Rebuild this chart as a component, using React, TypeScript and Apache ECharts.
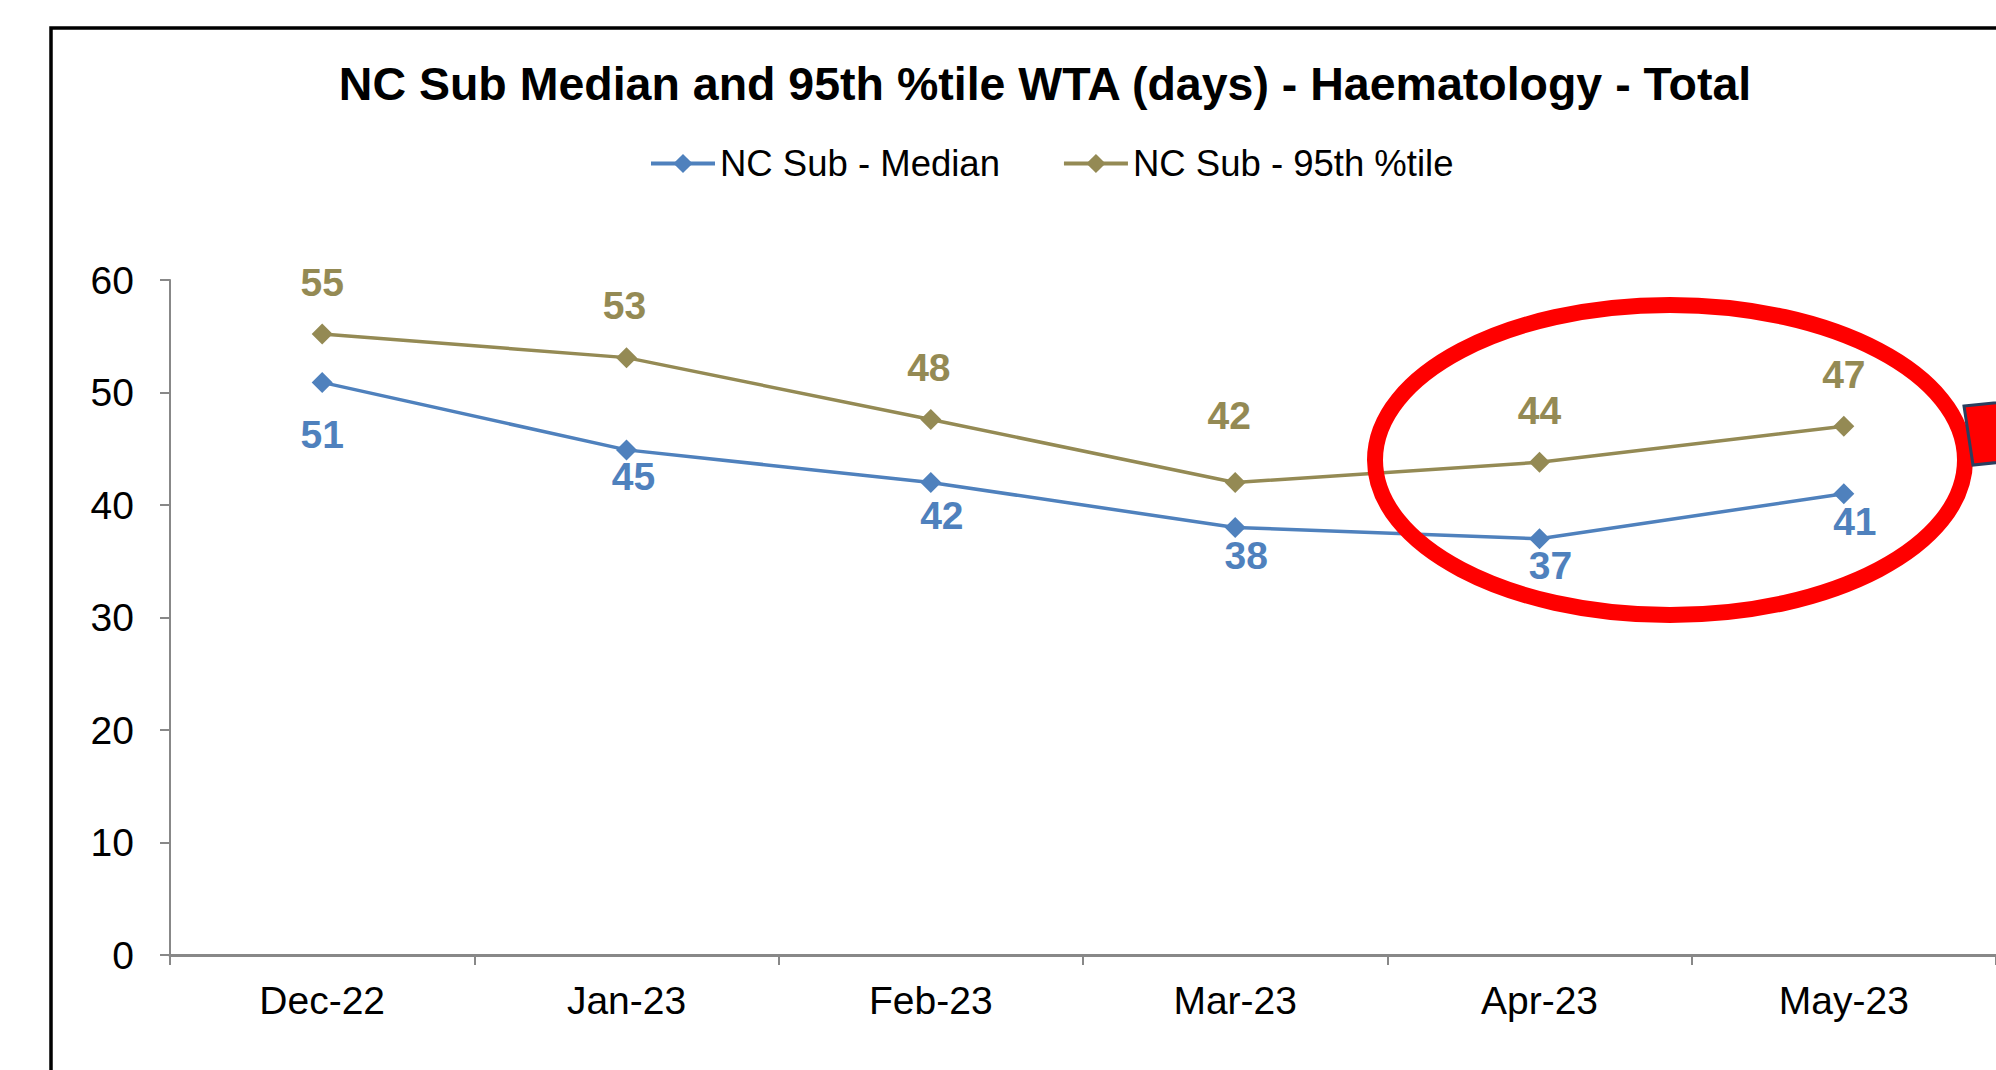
import React, { useEffect, useRef } from "react";
import * as echarts from "echarts";

const categories = ["Dec-22", "Jan-23", "Feb-23", "Mar-23", "Apr-23", "May-23"];
const medianValues = [50.9, 44.9, 42.0, 38.0, 37.0, 41.0];
const p95Values = [55.2, 53.1, 47.6, 42.0, 43.8, 47.0];
const seriesNames = ["NC Sub - Median", "NC Sub - 95th %tile"];
const titleText = "NC Sub Median and 95th %tile WTA (days) - Haematology - Total";

const FONT = "'Liberation Sans', Arial, Helvetica, sans-serif";
const BLUE = "#4F81BD";
const GOLD = "#948A54";
const AXIS = "#888888";

// label placement tweaks (style only, per point index)
const medianLabelStyle = [
  { distance: 22, offset: [0, 0] },
  { distance: -3, offset: [7, 0] },
  { distance: 3, offset: [11, 0] },
  { distance: -2, offset: [11, 0] },
  { distance: -3, offset: [11, 0] },
  { distance: -2, offset: [11, 0] },
];
const p95LabelStyle = [
  { distance: 22, offset: [0, 0] },
  { distance: 22, offset: [-2, 0] },
  { distance: 22, offset: [-2, 0] },
  { distance: 37, offset: [-6, 0] },
  { distance: 22, offset: [0, 0] },
  { distance: 22, offset: [0, 0] },
];

export default function App() {
  const ref = useRef<HTMLDivElement>(null);
  useEffect(() => {
    if (!ref.current) return;
    const chart = echarts.init(ref.current, undefined, { renderer: "svg" });
    const labelBase = {
      show: true,
      fontFamily: FONT,
      fontSize: 39,
      fontWeight: "bold",
      formatter: (p: any) => String(Math.round(p.value)),
    };
    chart.setOption({
      animation: false,
      backgroundColor: "#ffffff",
      textStyle: { fontFamily: FONT },
      title: {
        text: titleText,
        left: 1040,
        top: 55,
        textAlign: "center",
        textStyle: { fontFamily: FONT, fontSize: 46.5, fontWeight: "bold", color: "#000000" },
      },
      legend: {
        left: 649,
        top: 145,
        padding: 0,
        itemWidth: 64,
        itemHeight: 24,
        itemGap: 62,
        lineStyle: { width: 4 },
        textStyle: { fontFamily: FONT, fontSize: 36.5, color: "#000000" },
        data: seriesNames,
      },
      grid: { left: 170, top: 280, width: 1832, height: 675, containLabel: false },
      xAxis: {
        type: "category",
        data: categories,
        boundaryGap: true,
        axisLine: { show: true, lineStyle: { color: AXIS, width: 3 } },
        axisTick: { show: true, length: 10, lineStyle: { color: AXIS, width: 2 } },
        axisLabel: { fontFamily: FONT, fontSize: 39, color: "#000000", margin: 26 },
        splitLine: { show: false },
      },
      yAxis: {
        type: "value",
        min: 0,
        max: 60,
        interval: 10,
        axisLine: { show: true, lineStyle: { color: AXIS, width: 2 } },
        axisTick: { show: true, length: 10, lineStyle: { color: AXIS, width: 2 } },
        axisLabel: { fontFamily: FONT, fontSize: 39, color: "#000000", margin: 36 },
        splitLine: { show: false },
      },
      series: [
        {
          name: seriesNames[0],
          type: "line",
          data: medianValues.map((v, i) => ({
            value: v,
            label: { ...medianLabelStyle[i] },
          })),
          symbol: "diamond",
          symbolSize: 21,
          itemStyle: { color: BLUE },
          lineStyle: { color: BLUE, width: 3.5 },
          label: { ...labelBase, position: "bottom", color: BLUE },
        },
        {
          name: seriesNames[1],
          type: "line",
          data: p95Values.map((v, i) => ({
            value: v,
            label: { ...p95LabelStyle[i] },
          })),
          symbol: "diamond",
          symbolSize: 21,
          itemStyle: { color: GOLD },
          lineStyle: { color: GOLD, width: 3.5 },
          label: { ...labelBase, position: "top", color: GOLD },
        },
      ],
      graphic: [
        {
          type: "rect",
          silent: true,
          z: 100,
          shape: { x: 51, y: 28, width: 2100, height: 1200 },
          style: { fill: "none", stroke: "#000000", lineWidth: 3.5 },
        },
        {
          type: "ellipse",
          silent: true,
          z: 101,
          shape: { cx: 1670, cy: 460, rx: 295, ry: 155 },
          style: { fill: "none", stroke: "#FF0000", lineWidth: 16 },
        },
        {
          type: "polygon",
          silent: true,
          z: 102,
          shape: { points: [[1964, 406], [2060, 396], [2070, 455], [1973, 465]] },
          style: { fill: "#FF0000", stroke: "#2A3F5F", lineWidth: 3 },
        },
      ],
    });
    return () => chart.dispose();
  }, []);
  return (
    <div
      ref={ref}
      style={{ position: "fixed", left: 0, top: 0, width: 1996, height: 1070, background: "#fff" }}
    />
  );
}
